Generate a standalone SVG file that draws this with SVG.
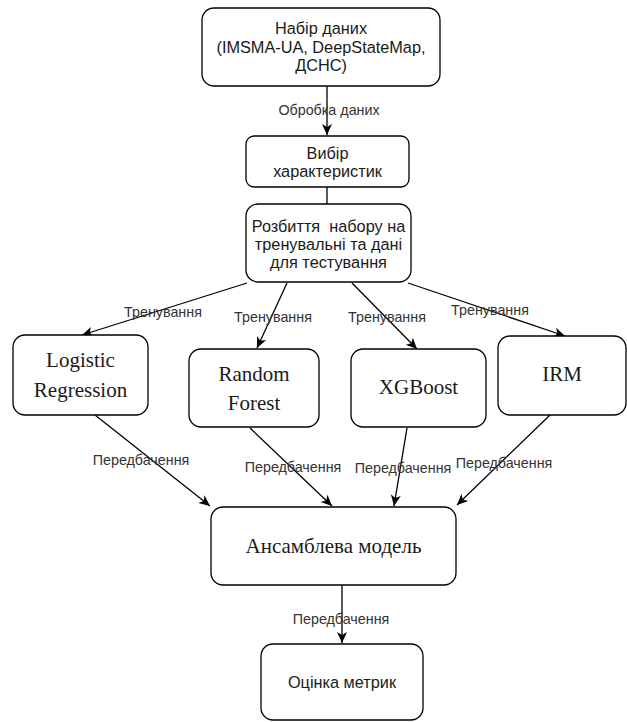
<svg xmlns="http://www.w3.org/2000/svg" width="627" height="722" viewBox="0 0 627 722">
<defs>
<style>
.box{fill:#fff;stroke:#000;stroke-width:1.3}
.t{font-family:"Liberation Sans",Arial,sans-serif;font-size:16.3px;fill:#1a1a1a;text-anchor:middle}
.s{font-family:"Liberation Serif","Times New Roman",serif;font-size:21px;fill:#1a1a1a;text-anchor:middle}
.l{font-family:"Liberation Sans",Arial,sans-serif;font-size:14.3px;fill:#333;text-anchor:middle}
.e{fill:none;stroke:#000;stroke-width:1.3}
</style>
<marker id="arr" markerUnits="userSpaceOnUse" markerWidth="14" markerHeight="14" viewBox="0 0 14 14" refX="12" refY="7" orient="auto">
<path d="M1,2 L12,7 L1,12 L4,7 Z" fill="#000"/>
</marker>
</defs>
<g id="connectors">
<line class="e" x1="327" y1="86" x2="327" y2="135" marker-end="url(#arr)"/>
<line class="e" x1="327" y1="187" x2="327" y2="204"/>
<line class="e" x1="247" y1="283" x2="82" y2="335" marker-end="url(#arr)"/>
<line class="e" x1="287" y1="283" x2="257" y2="348" marker-end="url(#arr)"/>
<line class="e" x1="352" y1="283" x2="417" y2="349" marker-end="url(#arr)"/>
<line class="e" x1="408" y1="283" x2="565" y2="336" marker-end="url(#arr)"/>
<line class="e" x1="95" y1="415" x2="210" y2="506" marker-end="url(#arr)"/>
<line class="e" x1="250" y1="428" x2="332" y2="506" marker-end="url(#arr)"/>
<line class="e" x1="407" y1="428" x2="394" y2="506" marker-end="url(#arr)"/>
<line class="e" x1="550" y1="415" x2="457" y2="505" marker-end="url(#arr)"/>
<line class="e" x1="342" y1="585" x2="342" y2="643" marker-end="url(#arr)"/>
<text class="l" x="329" y="115">Обробка даних</text>
<text class="l" x="163" y="317">Тренування</text>
<text class="l" x="273" y="322">Тренування</text>
<text class="l" x="387" y="322">Тренування</text>
<text class="l" x="490" y="315">Тренування</text>
<text class="l" x="141" y="465">Передбачення</text>
<text class="l" x="293" y="472">Передбачення</text>
<text class="l" x="403" y="473">Передбачення</text>
<text class="l" x="504" y="468">Передбачення</text>
<text class="l" x="341" y="624">Передбачення</text>
</g>
<g id="dataset">
<rect class="box" x="202" y="8" width="238" height="78" rx="12"/>
<text class="t" x="321" y="34">Набір даних</text>
<text class="t" x="321" y="52.5">(IMSMA-UA, DeepStateMap,</text>
<text class="t" x="321" y="71">ДСНС)</text>
</g>
<g id="features">
<rect class="box" x="246" y="136" width="163" height="51" rx="8"/>
<text class="t" x="327.5" y="158.5">Вибір</text>
<text class="t" x="327.5" y="176.5">характеристик</text>
</g>
<g id="split">
<rect class="box" x="246" y="204" width="165" height="78" rx="12"/>
<text class="t" x="328.5" y="232" style="white-space:pre">Розбиття  набору на</text>
<text class="t" x="328.5" y="250">тренувальні та дані</text>
<text class="t" x="328.5" y="268">для тестування</text>
</g>
<g id="logistic">
<rect class="box" x="13" y="335" width="135" height="80" rx="12"/>
<text class="s" x="80.5" y="367">Logistic</text>
<text class="s" x="80.5" y="397">Regression</text>
</g>
<g id="rf">
<rect class="box" x="189" y="349" width="130" height="78" rx="12"/>
<text class="s" x="254" y="381">Random</text>
<text class="s" x="254" y="410">Forest</text>
</g>
<g id="xgb">
<rect class="box" x="351" y="349" width="135" height="78" rx="12"/>
<text class="s" x="418.5" y="394">XGBoost</text>
</g>
<g id="irm">
<rect class="box" x="498" y="336" width="128" height="79" rx="12"/>
<text class="s" x="562" y="381">IRM</text>
</g>
<g id="ensemble">
<rect class="box" x="211" y="507" width="245" height="78" rx="12"/>
<text class="s" x="333.5" y="553">Ансамблева модель</text>
</g>
<g id="metrics">
<rect class="box" x="261" y="644" width="162" height="76" rx="12"/>
<text class="t" x="342" y="688">Оцінка метрик</text>
</g>
</svg>
